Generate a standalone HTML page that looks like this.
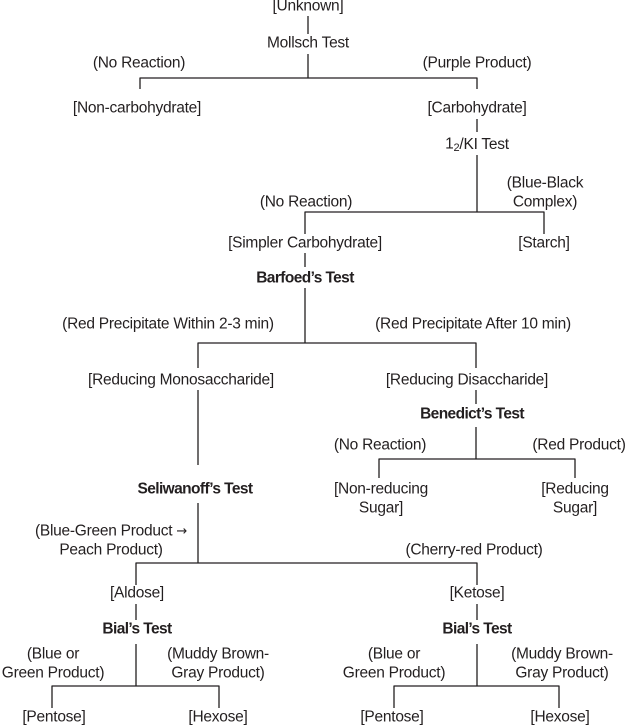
<!DOCTYPE html>
<html><head><meta charset="utf-8"><style>
html,body{margin:0;padding:0;background:#fff}
svg{display:block}
text{font-family:"Liberation Sans",Arial,sans-serif;font-size:15.5px;fill:#231f20;text-anchor:middle;dominant-baseline:central;letter-spacing:-0.25px}
.b{font-weight:bold;letter-spacing:-0.6px}
line{stroke:#231f20;stroke-width:1.3}
</style></head><body>
<svg width="626" height="725" viewBox="0 0 626 725" xmlns="http://www.w3.org/2000/svg">
<text x="308" y="6">[Unknown]</text>
<line x1="308" y1="16" x2="308" y2="34"/>
<text x="308" y="43">Mollsch Test</text>
<line x1="308" y1="54" x2="308" y2="78"/>
<line x1="139.5" y1="78" x2="477.5" y2="78"/>
<line x1="140" y1="78" x2="140" y2="89"/>
<line x1="477" y1="78" x2="477" y2="89"/>
<text x="139" y="63">(No Reaction)</text>
<text x="477" y="63">(Purple Product)</text>
<text x="137" y="108">[Non-carbohydrate]</text>
<text x="477" y="108">[Carbohydrate]</text>
<line x1="477" y1="119" x2="477" y2="132"/>
<text x="477" y="144">1<tspan font-size="11" dy="4">2</tspan><tspan dy="-4">/KI Test</tspan></text>
<line x1="477" y1="155" x2="477" y2="212"/>
<line x1="304.5" y1="212" x2="544.5" y2="212"/>
<line x1="305" y1="212" x2="305" y2="234"/>
<line x1="544" y1="212" x2="544" y2="234"/>
<text x="306" y="202">(No Reaction)</text>
<text x="545" y="183">(Blue-Black</text>
<text x="545" y="202">Complex)</text>
<text x="305" y="243">[Simpler Carbohydrate]</text>
<text x="544" y="243">[Starch]</text>
<line x1="305" y1="253" x2="305" y2="267"/>
<text class="b" x="305" y="278">Barfoed’s Test</text>
<line x1="305" y1="288" x2="305" y2="343"/>
<line x1="197.5" y1="343" x2="476.5" y2="343"/>
<line x1="198" y1="343" x2="198" y2="368"/>
<line x1="476" y1="343" x2="476" y2="368"/>
<text x="168" y="324">(Red Precipitate Within 2-3 min)</text>
<text x="473" y="324">(Red Precipitate After 10 min)</text>
<text x="181" y="380">[Reducing Monosaccharide]</text>
<text x="467" y="380">[Reducing Disaccharide]</text>
<line x1="198" y1="390" x2="198" y2="465"/>
<text class="b" x="195" y="489">Seliwanoff’s Test</text>
<line x1="476" y1="390" x2="476" y2="404"/>
<text class="b" x="472" y="414">Benedict’s Test</text>
<line x1="476" y1="427" x2="476" y2="459"/>
<line x1="378.5" y1="459" x2="575.5" y2="459"/>
<line x1="379" y1="459" x2="379" y2="478"/>
<line x1="575" y1="459" x2="575" y2="478"/>
<text x="380" y="445">(No Reaction)</text>
<text x="579" y="445">(Red Product)</text>
<text x="381" y="489">[Non-reducing</text>
<text x="381" y="508">Sugar]</text>
<text x="575" y="489">[Reducing</text>
<text x="575" y="508">Sugar]</text>
<line x1="198" y1="503" x2="198" y2="563"/>
<line x1="135.5" y1="563" x2="477.5" y2="563"/>
<line x1="136" y1="563" x2="136" y2="585"/>
<line x1="477" y1="563" x2="477" y2="585"/>
<text x="111" y="531">(Blue-Green Product <tspan font-family="DejaVu Sans" font-size="13">→</tspan></text>
<text x="111" y="550">Peach Product)</text>
<text x="474" y="550">(Cherry-red Product)</text>
<text x="137" y="593">[Aldose]</text>
<text x="477" y="593">[Ketose]</text>
<line x1="136" y1="604" x2="136" y2="620"/>
<line x1="477" y1="604" x2="477" y2="620"/>
<text class="b" x="137" y="629">Bial’s Test</text>
<text class="b" x="477" y="629">Bial’s Test</text>
<line x1="136" y1="644" x2="136" y2="686"/>
<line x1="51.5" y1="686" x2="219.5" y2="686"/>
<line x1="52" y1="686" x2="52" y2="708"/>
<line x1="219" y1="686" x2="219" y2="708"/>
<line x1="477" y1="644" x2="477" y2="686"/>
<line x1="393.5" y1="686" x2="559.5" y2="686"/>
<line x1="394" y1="686" x2="394" y2="708"/>
<line x1="559" y1="686" x2="559" y2="708"/>
<text x="53" y="654">(Blue or</text>
<text x="53" y="673">Green Product)</text>
<text x="218" y="654">(Muddy Brown-</text>
<text x="218" y="673">Gray Product)</text>
<text x="394" y="654">(Blue or</text>
<text x="394" y="673">Green Product)</text>
<text x="562" y="654">(Muddy Brown-</text>
<text x="562" y="673">Gray Product)</text>
<text x="54" y="717">[Pentose]</text>
<text x="218" y="717">[Hexose]</text>
<text x="392" y="717">[Pentose]</text>
<text x="560" y="717">[Hexose]</text>
</svg>
</body></html>
